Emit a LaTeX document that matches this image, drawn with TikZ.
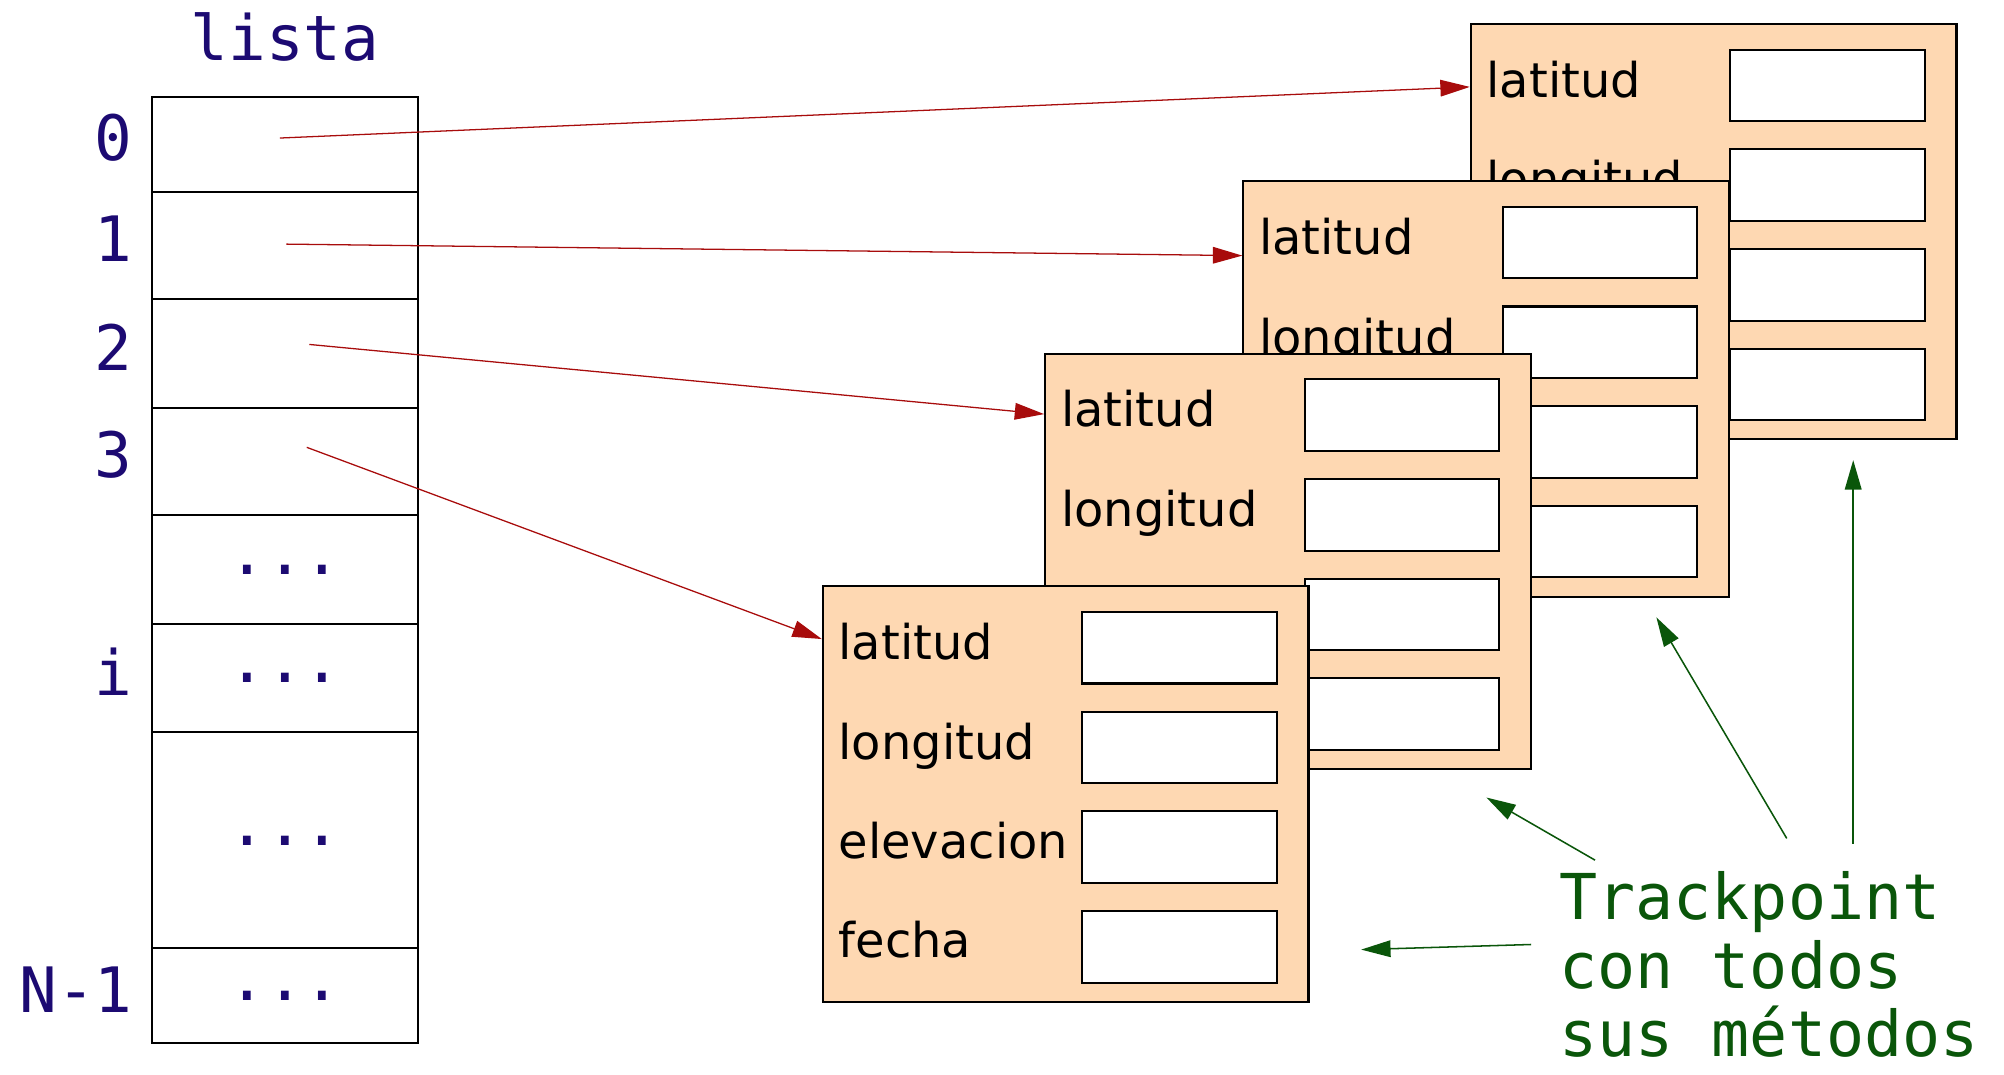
\documentclass[tikz,border=0pt]{standalone}
\usepackage{fontspec}
\setmainfont{DejaVu Sans}
\setmonofont{DejaVu Sans Mono}
\usetikzlibrary{arrows.meta,positioning,calc}
\definecolor{ListaInk}{HTML}{1C0A72}
\definecolor{PunteroRed}{HTML}{A80C0C}
\definecolor{NotaGreen}{HTML}{0A560A}
\definecolor{CardPeach}{HTML}{FED8B2}
\tikzset{
  lista title/.style={font=\ttfamily\fontsize{49}{56}\selectfont, text=ListaInk, inner sep=0pt},
  lista index/.style={lista title, yshift=5pt},
  lista cell/.style={draw=black, line width=1.6pt, minimum width=208pt, inner sep=0pt, outer sep=0pt,
    font=\ttfamily\fontsize{49}{56}\selectfont, text=ListaInk},
  tp card/.style={draw=black, fill=CardPeach, line width=1.6pt, minimum width=380pt, minimum height=325pt,
    inner sep=0pt, anchor=north west},
  tp field/.style={font=\fontsize{37.5}{45}\selectfont, text=black, inner sep=0pt, anchor=base west},
  tp slot/.style={draw=black, fill=white, line width=1.6pt, minimum width=152pt, minimum height=56pt,
    inner sep=0pt, anchor=north west},
  tp pointer/.style={draw=PunteroRed, line width=1pt, -{Triangle[length=23pt,width=13pt]}},
  tp note/.style={font=\ttfamily\fontsize{49.5}{53.5}\selectfont, text=NotaGreen, align=left, inner sep=0pt},
  tp note arrow/.style={draw=NotaGreen, line width=1.2pt, -{Triangle[length=23pt,width=13pt]}},
}
\newcommand{\TrackpointCard}[3]{%
  \node[tp card] (#1) at (#2) {};
  \node[tp field] (#1-lat) at ($(#1.north west)+(13,58)$) {latitud};
  \node[tp field] (#1-lon) at ($(#1.north west)+(13,136)$) {longitud};
  \node[tp field] (#1-ele) at ($(#1.north west)+(13,214)$) {elevacion};
  \node[tp field] (#1-fec) at ($(#1.north west)+(13,291)$) {fecha};
  \node[tp slot] (#1-s1) at ($(#1.north west)+(203,20)$) {};
  \node[tp slot] (#1-s2) at ($(#1.north west)+(203,98)$) {};
  \node[tp slot] (#1-s3) at ($(#1.north west)+(203,176)$) {};
  \node[tp slot] (#1-s4) at ($(#1.north west)+(203,254)$) {};
  \coordinate (#1-in) at ($(#1.north west)+(0,#3)$);%
}

\begin{document}
\begin{tikzpicture}[x=1pt,y=-1pt]
  \useasboundingbox (0,0) rectangle (1568,841);

  % the list and its slots
  \node[lista cell, minimum height=74pt, anchor=north] (c0) at (223,76) {};
  \node[lista cell, minimum height=84pt, below=0pt of c0] (c1) {};
  \node[lista cell, minimum height=85pt, below=0pt of c1] (c2) {};
  \node[lista cell, minimum height=84pt, below=0pt of c2] (c3) {};
  \node[lista cell, minimum height=85pt, below=0pt of c3] (c4) {...};
  \node[lista cell, minimum height=85pt, below=0pt of c4] (c5) {...};
  \node[lista cell, minimum height=169pt, below=0pt of c5] (c6) {...};
  \node[lista cell, minimum height=74pt, below=0pt of c6] (c7) {...};
  \node[lista title, above=28pt of c0] (titulo) {lista};

  \node[lista index, left=15pt of c0] (i0) {0};
  \node[lista index, left=15pt of c1] (i1) {1};
  \node[lista index, left=15pt of c2] (i2) {2};
  \node[lista index, left=15pt of c3] (i3) {3};
  \node[lista index, left=15pt of c5] (ii) {i};
  \node[lista index, left=15pt of c7] (iN) {N-1};

  % trackpoint objects, back to front
  \TrackpointCard{tpA}{1150,18}{50}
  \TrackpointCard{tpB}{972,141}{59}
  \TrackpointCard{tpC}{817,276}{48}
  \TrackpointCard{tpD}{643,458}{42}

  \draw[tp pointer] ([shift={(-4,-5)}]c0.center) -- (tpA-in);
  \draw[tp pointer] ([shift={(1,-1)}]c1.center) -- (tpB-in);
  \draw[tp pointer] ([shift={(19,-7)}]c2.center) -- (tpC-in);
  \draw[tp pointer] ([shift={(17,-11)}]c3.center) -- (tpD-in);

  % note
  \node[tp note, anchor=north west] (nota) at (1220,682) {Trackpoint\\con todos\\sus métodos};
  \coordinate (n1) at (1248,673);  \coordinate (t1) at (1163,624);
  \coordinate (n2) at (1398,656);  \coordinate (t2) at (1296,483);
  \coordinate (n3) at (1450,660);  \coordinate (t3) at (1450,360);
  \coordinate (n4) at (1198,739);  \coordinate (t4) at (1065,743);
  \draw[tp note arrow] (n1) -- (t1);
  \draw[tp note arrow] (n2) -- (t2);
  \draw[tp note arrow] (n3) -- (t3);
  \draw[tp note arrow] (n4) -- (t4);
\end{tikzpicture}
\end{document}
